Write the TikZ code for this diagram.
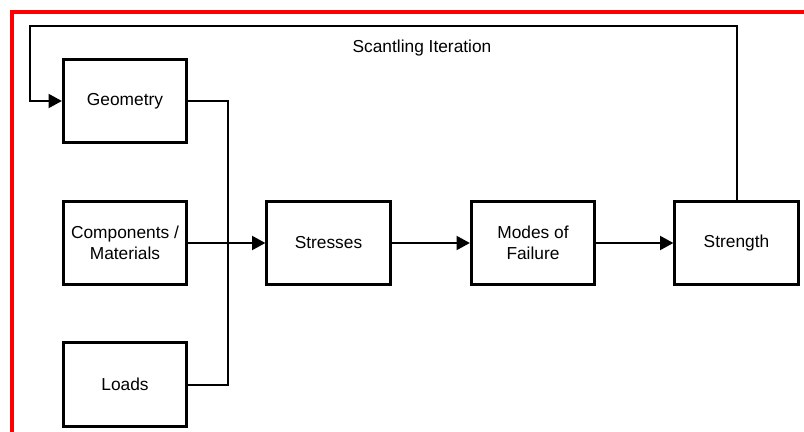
\documentclass[tikz,border=0pt]{standalone}
\usepackage{fontspec}
\setmainfont{Liberation Sans}
\usetikzlibrary{arrows.meta}

\begin{document}
\begin{tikzpicture}[x=0.75pt, y=-0.75pt,
  block/.style={draw, line width=2.2pt, fill=white, align=center, inner sep=2pt,
                minimum width=92.5pt, minimum height=62.5pt,
                font=\fontsize{13}{16}\selectfont},
  link/.style={line width=1.5pt},
  arr/.style={link, -{Triangle[length=10pt, width=10.5pt]}},
  frame/.style={draw=red, line width=3pt},
  caption/.style={font=\fontsize{13}{16}\selectfont}]

\useasboundingbox (0,0) rectangle (804,432);

% ---------- frame ----------
\draw[frame] (804,12) -- (12,12) -- (12,432);

% ---------- inputs ----------
\node[block]                         (geo) at (125,101) {Geometry};
\node[block]                         (comp) at (125,243) {Components /\\Materials};
\node[block]                         (loads) at (125,384.5) {Loads};

% ---------- chain ----------
\node[block]                         (stress) at (328.5,243) {Stresses};
\node[block]                         (modes) at (533,243) {Modes of\\Failure};
\node[block]                         (strength) at (736.5,243) {Strength};

% ---------- feedback ----------
\coordinate                          (loop-r) at (736.5,26);
\coordinate                          (loop-l) at (30,26);
\coordinate                          (join) at (228,243);
\node[caption]                       (iter) at (422,48) {Scantling Iteration};

\draw[link] (geo.east) -| (join) |- (loads.east);
\foreach \i/\j in {comp/stress, stress/modes, modes/strength} {
  \draw[arr] (\i) -- (\j);
}
\draw[arr] (strength.north) -- (loop-r) -- (loop-l) |- (geo.west);
\end{tikzpicture}
\end{document}
